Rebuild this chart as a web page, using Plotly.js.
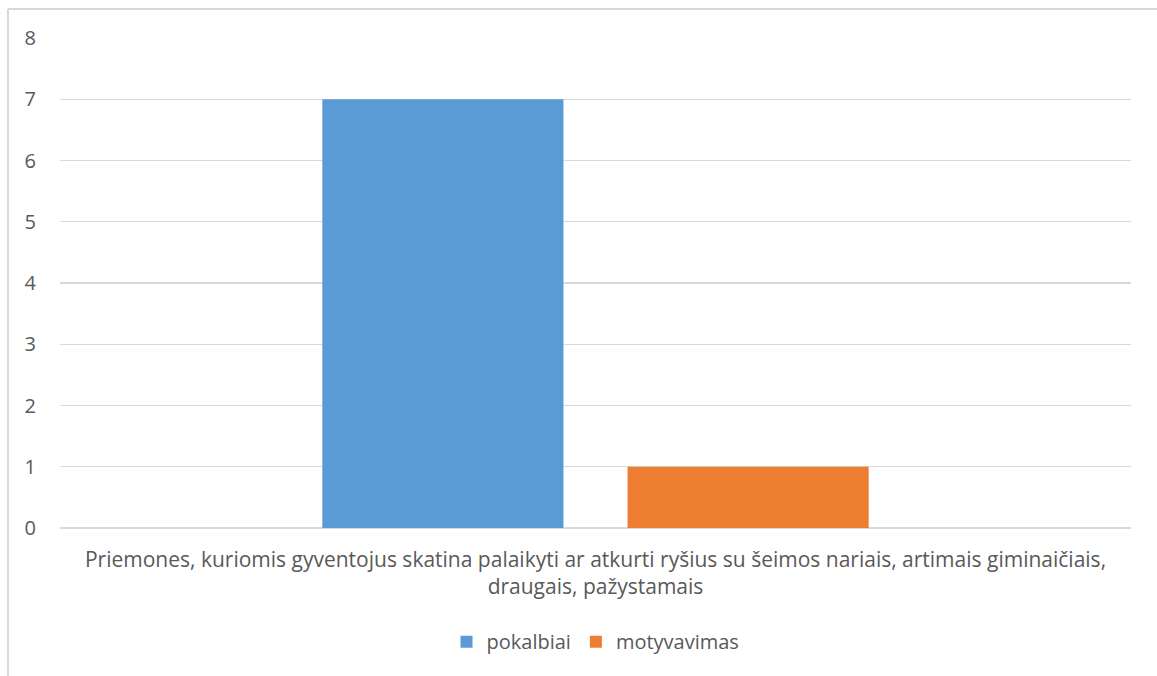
<!DOCTYPE html>
<html>
<head>
<meta charset="utf-8">
<script src="https://cdn.plot.ly/plotly-3.0.1.min.js"></script>
<style>
html,body{margin:0;padding:0;background:#fff;}
#chart{width:1157px;height:676px;}
</style>
</head>
<body>
<div id="chart"></div>
<script>
const categories = ["Priemones, kuriomis gyventojus skatina palaikyti ar atkurti ryšius su šeimos nariais, artimais giminaičiais,<br>draugais, pažystamais"];
const seriesNames = ["pokalbiai", "motyvavimas"];
const pokalbiai = [7];
const motyvavimas = [1];
const seriesColors = ["#5b9bd5", "#ed7d31"];
const yTicks = [0, 1, 2, 3, 4, 5, 6, 7, 8];

const fontFam = "'Open Sans', sans-serif";
const traces = [
  {type: 'bar', name: seriesNames[0], x: categories, y: pokalbiai, marker: {color: seriesColors[0]}, hoverinfo: 'y'},
  {type: 'bar', name: seriesNames[1], x: categories, y: motyvavimas, marker: {color: seriesColors[1]}, hoverinfo: 'y'}
];
const layout = {
  width: 1157, height: 676,
  margin: {l: 60, r: 26, t: 38, b: 148},
  paper_bgcolor: '#ffffff', plot_bgcolor: '#ffffff',
  barmode: 'group', bargap: 0.43, bargroupgap: 0.21,
  font: {family: fontFam, color: '#595959', size: 21},
  xaxis: {showgrid: false, showline: false, zeroline: false, ticks: '', ticklabelstandoff: 17,
          tickfont: {size: 21, color: '#595959'}, automargin: false},
  yaxis: {range: [0, 8], tickvals: yTicks, showgrid: true, gridcolor: '#d9d9d9', gridwidth: 1.3,
          zeroline: true, zerolinecolor: '#d9d9d9', zerolinewidth: 1.5, showline: false, ticks: '',
          ticklabelstandoff: 23, tickfont: {size: 20, color: '#595959'}, fixedrange: true},
  legend: {orientation: 'h', x: 0.5, xanchor: 'center', y: -0.232, yanchor: 'middle', font: {size: 20, color: '#595959'}, itemwidth: 30, traceorder: 'normal'},
  showlegend: true,
  shapes: [
    {type: 'line', xref: 'paper', yref: 'paper', x0: -0.0486, x1: -0.0486, y0: 1.0592, y1: -0.31, line: {color: '#d9d9d9', width: 2}},
    {type: 'line', xref: 'paper', yref: 'paper', x0: -0.0486, x1: 1.03, y0: 1.0592, y1: 1.0592, line: {color: '#d9d9d9', width: 2}}
  ]
};
Plotly.newPlot('chart', traces, layout, {displayModeBar: false, staticPlot: true});
</script>
</body>
</html>
